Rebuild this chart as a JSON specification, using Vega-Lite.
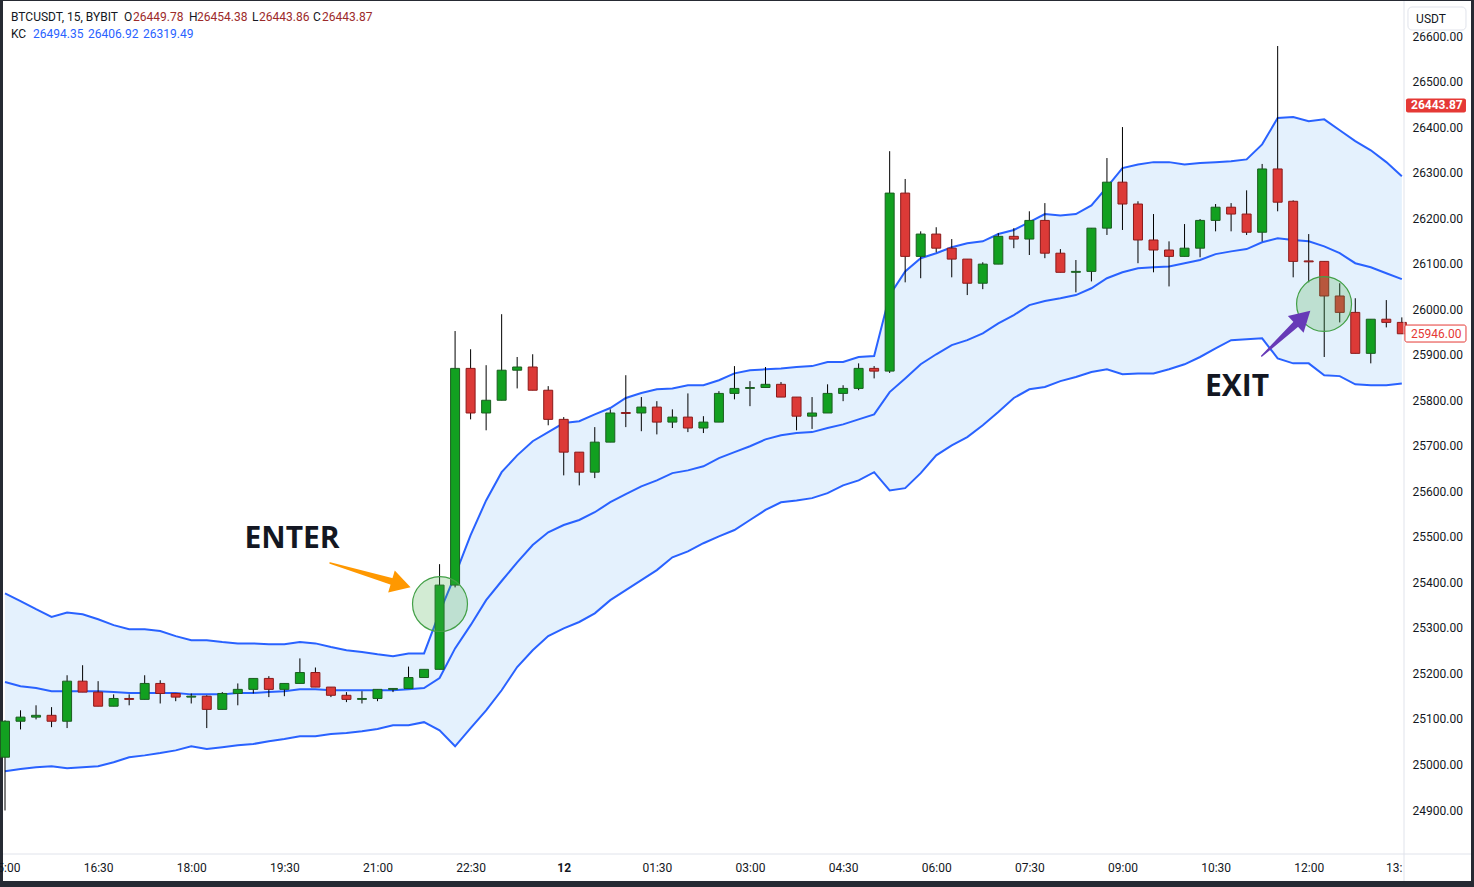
{
  "$schema": "https://vega.github.io/schema/vega-lite/v6.json",
  "description": "BTCUSDT 15m candles with Keltner Channel, enter and exit marks.",
  "width": 1468,
  "height": 880,
  "autosize": {"type": "none"},
  "padding": {"left": 3, "top": 1, "right": 3, "bottom": 6},
  "background": "#262a33",
  "config": {
    "font": "Roboto",
    "view": {"fill": "white", "stroke": null}
  },
  "datasets": {
    "bars": [
      {"t":"2023-09-11T15:00","o":25016,"h":25097,"l":24899,"c":25095,"up":25376,"mid":25181,"low":24985},
      {"t":"2023-09-11T15:15","o":25095,"h":25119,"l":25077,"c":25104,"up":25359,"mid":25172,"low":24990},
      {"t":"2023-09-11T15:30","o":25104,"h":25130,"l":25099,"c":25108,"up":25341,"mid":25168,"low":24994},
      {"t":"2023-09-11T15:45","o":25108,"h":25126,"l":25082,"c":25095,"up":25324,"mid":25161,"low":24996},
      {"t":"2023-09-11T16:00","o":25095,"h":25196,"l":25080,"c":25183,"up":25334,"mid":25161,"low":24992},
      {"t":"2023-09-11T16:15","o":25183,"h":25218,"l":25159,"c":25159,"up":25330,"mid":25161,"low":24994},
      {"t":"2023-09-11T16:30","o":25159,"h":25183,"l":25128,"c":25128,"up":25319,"mid":25161,"low":24996},
      {"t":"2023-09-11T16:45","o":25128,"h":25154,"l":25128,"c":25145,"up":25306,"mid":25159,"low":25005},
      {"t":"2023-09-11T17:00","o":25145,"h":25154,"l":25130,"c":25143,"up":25297,"mid":25157,"low":25016},
      {"t":"2023-09-11T17:15","o":25143,"h":25196,"l":25143,"c":25178,"up":25297,"mid":25157,"low":25020},
      {"t":"2023-09-11T17:30","o":25178,"h":25185,"l":25134,"c":25156,"up":25293,"mid":25157,"low":25025},
      {"t":"2023-09-11T17:45","o":25156,"h":25156,"l":25139,"c":25148,"up":25282,"mid":25157,"low":25031},
      {"t":"2023-09-11T18:00","o":25148,"h":25156,"l":25134,"c":25150,"up":25273,"mid":25154,"low":25040},
      {"t":"2023-09-11T18:15","o":25150,"h":25152,"l":25080,"c":25121,"up":25273,"mid":25154,"low":25034},
      {"t":"2023-09-11T18:30","o":25121,"h":25159,"l":25121,"c":25156,"up":25269,"mid":25154,"low":25038},
      {"t":"2023-09-11T18:45","o":25156,"h":25178,"l":25130,"c":25165,"up":25266,"mid":25157,"low":25042},
      {"t":"2023-09-11T19:00","o":25165,"h":25189,"l":25156,"c":25189,"up":25266,"mid":25157,"low":25045},
      {"t":"2023-09-11T19:15","o":25189,"h":25194,"l":25148,"c":25165,"up":25264,"mid":25159,"low":25051},
      {"t":"2023-09-11T19:30","o":25165,"h":25178,"l":25150,"c":25178,"up":25264,"mid":25161,"low":25056},
      {"t":"2023-09-11T19:45","o":25178,"h":25233,"l":25178,"c":25202,"up":25269,"mid":25165,"low":25062},
      {"t":"2023-09-11T20:00","o":25202,"h":25213,"l":25170,"c":25170,"up":25266,"mid":25165,"low":25062},
      {"t":"2023-09-11T20:15","o":25170,"h":25170,"l":25148,"c":25152,"up":25258,"mid":25163,"low":25067},
      {"t":"2023-09-11T20:30","o":25152,"h":25159,"l":25137,"c":25143,"up":25251,"mid":25163,"low":25069},
      {"t":"2023-09-11T20:45","o":25143,"h":25161,"l":25134,"c":25145,"up":25247,"mid":25163,"low":25073},
      {"t":"2023-09-11T21:00","o":25145,"h":25165,"l":25139,"c":25165,"up":25242,"mid":25163,"low":25078},
      {"t":"2023-09-11T21:15","o":25165,"h":25167,"l":25159,"c":25167,"up":25238,"mid":25163,"low":25086},
      {"t":"2023-09-11T21:30","o":25167,"h":25215,"l":25167,"c":25191,"up":25244,"mid":25165,"low":25086},
      {"t":"2023-09-11T21:45","o":25191,"h":25209,"l":25191,"c":25209,"up":25244,"mid":25168,"low":25093},
      {"t":"2023-09-11T22:00","o":25209,"h":25440,"l":25209,"c":25394,"up":25334,"mid":25190,"low":25075},
      {"t":"2023-09-11T22:15","o":25394,"h":25952,"l":25389,"c":25870,"up":25416,"mid":25255,"low":25040},
      {"t":"2023-09-11T22:30","o":25870,"h":25912,"l":25758,"c":25772,"up":25504,"mid":25306,"low":25080},
      {"t":"2023-09-11T22:45","o":25772,"h":25877,"l":25734,"c":25800,"up":25580,"mid":25361,"low":25119},
      {"t":"2023-09-11T23:00","o":25800,"h":25989,"l":25800,"c":25866,"up":25642,"mid":25403,"low":25163},
      {"t":"2023-09-11T23:15","o":25866,"h":25895,"l":25826,"c":25873,"up":25679,"mid":25444,"low":25214},
      {"t":"2023-09-11T23:30","o":25873,"h":25901,"l":25822,"c":25822,"up":25710,"mid":25482,"low":25251},
      {"t":"2023-09-11T23:45","o":25822,"h":25831,"l":25745,"c":25758,"up":25730,"mid":25510,"low":25282},
      {"t":"2023-09-12T00:00","o":25758,"h":25763,"l":25635,"c":25686,"up":25750,"mid":25526,"low":25299},
      {"t":"2023-09-12T00:15","o":25686,"h":25686,"l":25613,"c":25642,"up":25754,"mid":25537,"low":25313},
      {"t":"2023-09-12T00:30","o":25642,"h":25741,"l":25629,"c":25708,"up":25769,"mid":25554,"low":25332},
      {"t":"2023-09-12T00:45","o":25708,"h":25780,"l":25708,"c":25772,"up":25783,"mid":25576,"low":25361},
      {"t":"2023-09-12T01:00","o":25773,"h":25855,"l":25741,"c":25771,"up":25805,"mid":25594,"low":25383},
      {"t":"2023-09-12T01:15","o":25772,"h":25807,"l":25732,"c":25785,"up":25816,"mid":25611,"low":25405},
      {"t":"2023-09-12T01:30","o":25785,"h":25798,"l":25725,"c":25752,"up":25824,"mid":25624,"low":25427},
      {"t":"2023-09-12T01:45","o":25752,"h":25780,"l":25739,"c":25763,"up":25826,"mid":25640,"low":25455},
      {"t":"2023-09-12T02:00","o":25763,"h":25815,"l":25730,"c":25739,"up":25833,"mid":25646,"low":25468},
      {"t":"2023-09-12T02:15","o":25739,"h":25765,"l":25728,"c":25752,"up":25833,"mid":25655,"low":25486},
      {"t":"2023-09-12T02:30","o":25752,"h":25820,"l":25752,"c":25815,"up":25844,"mid":25673,"low":25501},
      {"t":"2023-09-12T02:45","o":25815,"h":25875,"l":25802,"c":25826,"up":25859,"mid":25686,"low":25515},
      {"t":"2023-09-12T03:00","o":25826,"h":25842,"l":25787,"c":25828,"up":25866,"mid":25699,"low":25537},
      {"t":"2023-09-12T03:15","o":25828,"h":25873,"l":25828,"c":25835,"up":25868,"mid":25714,"low":25559},
      {"t":"2023-09-12T03:30","o":25835,"h":25840,"l":25807,"c":25807,"up":25870,"mid":25723,"low":25576},
      {"t":"2023-09-12T03:45","o":25807,"h":25807,"l":25734,"c":25765,"up":25873,"mid":25728,"low":25580},
      {"t":"2023-09-12T04:00","o":25765,"h":25807,"l":25737,"c":25772,"up":25875,"mid":25730,"low":25585},
      {"t":"2023-09-12T04:15","o":25772,"h":25835,"l":25772,"c":25815,"up":25884,"mid":25739,"low":25596},
      {"t":"2023-09-12T04:30","o":25815,"h":25833,"l":25798,"c":25826,"up":25884,"mid":25747,"low":25613},
      {"t":"2023-09-12T04:45","o":25826,"h":25881,"l":25822,"c":25870,"up":25895,"mid":25758,"low":25624},
      {"t":"2023-09-12T05:00","o":25870,"h":25875,"l":25848,"c":25864,"up":25897,"mid":25769,"low":25642},
      {"t":"2023-09-12T05:15","o":25864,"h":26347,"l":25860,"c":26255,"up":26031,"mid":25818,"low":25602},
      {"t":"2023-09-12T05:30","o":26255,"h":26286,"l":26059,"c":26116,"up":26083,"mid":25848,"low":25607},
      {"t":"2023-09-12T05:45","o":26116,"h":26171,"l":26068,"c":26165,"up":26112,"mid":25879,"low":25640},
      {"t":"2023-09-12T06:00","o":26165,"h":26180,"l":26125,"c":26134,"up":26123,"mid":25901,"low":25679},
      {"t":"2023-09-12T06:15","o":26134,"h":26154,"l":26070,"c":26110,"up":26136,"mid":25921,"low":25701},
      {"t":"2023-09-12T06:30","o":26110,"h":26110,"l":26031,"c":26057,"up":26145,"mid":25932,"low":25719},
      {"t":"2023-09-12T06:45","o":26057,"h":26103,"l":26044,"c":26099,"up":26149,"mid":25947,"low":25745},
      {"t":"2023-09-12T07:00","o":26099,"h":26167,"l":26099,"c":26160,"up":26165,"mid":25969,"low":25774},
      {"t":"2023-09-12T07:15","o":26160,"h":26178,"l":26134,"c":26154,"up":26174,"mid":25987,"low":25805},
      {"t":"2023-09-12T07:30","o":26154,"h":26215,"l":26119,"c":26195,"up":26191,"mid":26009,"low":25824},
      {"t":"2023-09-12T07:45","o":26195,"h":26233,"l":26112,"c":26123,"up":26209,"mid":26018,"low":25829},
      {"t":"2023-09-12T08:00","o":26123,"h":26132,"l":26081,"c":26081,"up":26206,"mid":26024,"low":25842},
      {"t":"2023-09-12T08:15","o":26081,"h":26108,"l":26037,"c":26083,"up":26209,"mid":26031,"low":25851},
      {"t":"2023-09-12T08:30","o":26083,"h":26178,"l":26061,"c":26178,"up":26228,"mid":26046,"low":25862},
      {"t":"2023-09-12T08:45","o":26178,"h":26332,"l":26163,"c":26279,"up":26268,"mid":26068,"low":25868},
      {"t":"2023-09-12T09:00","o":26279,"h":26400,"l":26174,"c":26231,"up":26310,"mid":26081,"low":25857},
      {"t":"2023-09-12T09:15","o":26231,"h":26237,"l":26101,"c":26152,"up":26318,"mid":26090,"low":25859},
      {"t":"2023-09-12T09:30","o":26152,"h":26209,"l":26081,"c":26130,"up":26323,"mid":26092,"low":25859},
      {"t":"2023-09-12T09:45","o":26130,"h":26149,"l":26050,"c":26116,"up":26323,"mid":26094,"low":25868},
      {"t":"2023-09-12T10:00","o":26116,"h":26187,"l":26116,"c":26134,"up":26318,"mid":26101,"low":25879},
      {"t":"2023-09-12T10:15","o":26134,"h":26198,"l":26114,"c":26195,"up":26321,"mid":26108,"low":25895},
      {"t":"2023-09-12T10:30","o":26195,"h":26231,"l":26171,"c":26224,"up":26323,"mid":26121,"low":25914},
      {"t":"2023-09-12T10:45","o":26224,"h":26233,"l":26171,"c":26209,"up":26325,"mid":26127,"low":25932},
      {"t":"2023-09-12T11:00","o":26209,"h":26261,"l":26163,"c":26169,"up":26329,"mid":26132,"low":25934},
      {"t":"2023-09-12T11:15","o":26169,"h":26319,"l":26149,"c":26308,"up":26362,"mid":26147,"low":25936},
      {"t":"2023-09-12T11:30","o":26308,"h":26578,"l":26215,"c":26235,"up":26420,"mid":26156,"low":25892},
      {"t":"2023-09-12T11:45","o":26237,"h":26239,"l":26070,"c":26105,"up":26422,"mid":26152,"low":25881},
      {"t":"2023-09-12T12:00","o":26106,"h":26165,"l":26059,"c":26104,"up":26413,"mid":26149,"low":25881},
      {"t":"2023-09-12T12:15","o":26105,"h":26105,"l":25895,"c":26029,"up":26417,"mid":26138,"low":25855},
      {"t":"2023-09-12T12:30","o":26029,"h":26057,"l":25971,"c":25993,"up":26393,"mid":26123,"low":25853},
      {"t":"2023-09-12T12:45","o":25993,"h":26024,"l":25903,"c":25903,"up":26369,"mid":26101,"low":25835},
      {"t":"2023-09-12T13:00","o":25903,"h":25978,"l":25881,"c":25978,"up":26349,"mid":26092,"low":25833},
      {"t":"2023-09-12T13:15","o":25978,"h":26020,"l":25960,"c":25971,"up":26323,"mid":26079,"low":25833},
      {"t":"2023-09-12T13:30","o":25971,"h":25982,"l":25946,"c":25946,"up":26292,"mid":26066,"low":25837}
    ]
  },
  "layer": [
    {
      "data": {"name": "bars"},
      "mark": {"type": "area", "color": "#e4f1fd", "opacity": 1},
      "encoding": {
        "x": {
          "field": "t", "type": "temporal", "title": null,
          "scale": {
            "domain": [
              {"year": 2023, "month": 9, "date": 11, "hours": 14, "minutes": 58, "seconds": 4},
              {"year": 2023, "month": 9, "date": 12, "hours": 13, "minutes": 32, "seconds": 6}
            ],
            "range": [0, 1401],
            "padding": 0
          },
          "axis": {
            "orient": "bottom", "offset": -27, "grid": false, "ticks": false, "domain": false,
            "labelPadding": 8, "labelFontSize": 12, "labelColor": "#131722",
            "labelOverlap": false, "labelFlush": false, "labelBound": false,
            "values": [
              {"year": 2023, "month": 9, "date": 11, "hours": 15, "minutes": 0},
              {"year": 2023, "month": 9, "date": 11, "hours": 16, "minutes": 30},
              {"year": 2023, "month": 9, "date": 11, "hours": 18, "minutes": 0},
              {"year": 2023, "month": 9, "date": 11, "hours": 19, "minutes": 30},
              {"year": 2023, "month": 9, "date": 11, "hours": 21, "minutes": 0},
              {"year": 2023, "month": 9, "date": 11, "hours": 22, "minutes": 30},
              {"year": 2023, "month": 9, "date": 12, "hours": 0, "minutes": 0},
              {"year": 2023, "month": 9, "date": 12, "hours": 1, "minutes": 30},
              {"year": 2023, "month": 9, "date": 12, "hours": 3, "minutes": 0},
              {"year": 2023, "month": 9, "date": 12, "hours": 4, "minutes": 30},
              {"year": 2023, "month": 9, "date": 12, "hours": 6, "minutes": 0},
              {"year": 2023, "month": 9, "date": 12, "hours": 7, "minutes": 30},
              {"year": 2023, "month": 9, "date": 12, "hours": 9, "minutes": 0},
              {"year": 2023, "month": 9, "date": 12, "hours": 10, "minutes": 30},
              {"year": 2023, "month": 9, "date": 12, "hours": 12, "minutes": 0},
              {"year": 2023, "month": 9, "date": 12, "hours": 13, "minutes": 30}
            ],
            "labelExpr": "hours(datum.value) == 0 && minutes(datum.value) == 0 ? timeFormat(datum.value, '%d') : (hours(datum.value) == 13 && minutes(datum.value) == 30 ? '13:' : timeFormat(datum.value, '%H:%M'))",
            "labelFontWeight": {"condition": {"test": "hours(datum.value) == 0 && minutes(datum.value) == 0", "value": "bold"}, "value": "normal"},
            "labelAlign": {"condition": {"test": "hours(datum.value) == 13 && minutes(datum.value) == 30", "value": "right"}, "value": "center"}
          }
        },
        "y": {
          "field": "up", "type": "quantitative", "title": null,
          "scale": {"domain": [24803.4, 26676.9], "range": [853, 0], "zero": false, "nice": false, "padding": 0},
          "axis": {
            "orient": "right", "offset": -67, "grid": false, "ticks": false, "domain": false,
            "values": [24900, 25000, 25100, 25200, 25300, 25400, 25500, 25600, 25700, 25800, 25900, 26000, 26100, 26200, 26300, 26400, 26500, 26600],
            "format": ".2f", "labelPadding": 8, "labelFontSize": 12, "labelColor": "#131722",
            "labelAlign": "left", "labelBaseline": "middle",
            "labelOverlap": false, "labelFlush": false, "labelBound": false
          }
        },
        "y2": {"field": "low"}
      }
    },
    {
      "data": {"name": "bars"},
      "mark": {"type": "line", "color": "#2962ff", "strokeWidth": 2},
      "encoding": {
        "x": {"field": "t", "type": "temporal", "title": null},
        "y": {"field": "up", "type": "quantitative", "title": null}
      }
    },
    {
      "data": {"name": "bars"},
      "mark": {"type": "line", "color": "#2962ff", "strokeWidth": 2},
      "encoding": {
        "x": {"field": "t", "type": "temporal", "title": null},
        "y": {"field": "mid", "type": "quantitative", "title": null}
      }
    },
    {
      "data": {"name": "bars"},
      "mark": {"type": "line", "color": "#2962ff", "strokeWidth": 2},
      "encoding": {
        "x": {"field": "t", "type": "temporal", "title": null},
        "y": {"field": "low", "type": "quantitative", "title": null}
      }
    },
    {
      "data": {"name": "bars"},
      "mark": {"type": "rule", "color": "#000000", "strokeWidth": 1},
      "encoding": {
        "x": {"field": "t", "type": "temporal", "title": null},
        "y": {"field": "l", "type": "quantitative", "title": null},
        "y2": {"field": "h"}
      }
    },
    {
      "data": {"name": "bars"},
      "mark": {"type": "bar", "size": 9, "strokeWidth": 1},
      "encoding": {
        "x": {"field": "t", "type": "temporal", "title": null},
        "y": {"field": "o", "type": "quantitative", "title": null},
        "y2": {"field": "c"},
        "color": {"condition": {"test": "datum.c >= datum.o", "value": "#12a020"}, "value": "#dc3a37"},
        "stroke": {"condition": {"test": "datum.c >= datum.o", "value": "#1b5e20"}, "value": "#8b1a1a"}
      }
    },
    {
      "data": {"values": [
        {"t": "2023-09-11T22:00:25", "p": 25352.4},
        {"t": "2023-09-12T12:14:50", "p": 26011.4}
      ]},
      "mark": {"type": "point", "shape": "circle", "filled": true, "size": 3019, "fill": "#4caf50", "fillOpacity": 0.25, "stroke": "#43a047", "strokeWidth": 1.2, "strokeOpacity": 1, "opacity": 1},
      "encoding": {
        "x": {"field": "t", "type": "temporal", "title": null},
        "y": {"field": "p", "type": "quantitative", "title": null}
      }
    },
    {
      "data": {"values": [
        {"t": "2023-09-11T20:14:07", "p": 25442.5, "k": 0},
        {"t": "2023-09-11T21:14:02", "p": 25401.9, "k": 1}
      ]},
      "mark": {"type": "trail", "color": "#ff9800", "opacity": 1},
      "encoding": {
        "x": {"field": "t", "type": "temporal", "title": null},
        "y": {"field": "p", "type": "quantitative", "title": null},
        "size": {"field": "k", "type": "quantitative", "scale": {"domain": [0, 1], "range": [1.5, 7]}, "legend": null},
        "order": {"field": "k"}
      }
    },
    {
      "data": {"values": [{"t": "2023-09-11T21:22:44", "p": 25395.7}]},
      "mark": {"type": "point", "shape": "triangle-up", "filled": true, "size": 529, "angle": 106.7, "color": "#ff9800", "opacity": 1},
      "encoding": {
        "x": {"field": "t", "type": "temporal", "title": null},
        "y": {"field": "p", "type": "quantitative", "title": null}
      }
    },
    {
      "data": {"values": [
        {"t": "2023-09-12T11:14:36", "p": 25897.2, "k": 0},
        {"t": "2023-09-12T11:47:48", "p": 25967.4, "k": 1}
      ]},
      "mark": {"type": "trail", "color": "#673ab7", "opacity": 1},
      "encoding": {
        "x": {"field": "t", "type": "temporal", "title": null},
        "y": {"field": "p", "type": "quantitative", "title": null},
        "size": {"field": "k", "type": "quantitative", "scale": {"domain": [0, 1], "range": [1.5, 7]}, "legend": null},
        "order": {"field": "k"}
      }
    },
    {
      "data": {"values": [{"t": "2023-09-12T11:54:30", "p": 25981.7}]},
      "mark": {"type": "point", "shape": "triangle-up", "filled": true, "size": 529, "angle": 47, "color": "#673ab7", "opacity": 1},
      "encoding": {
        "x": {"field": "t", "type": "temporal", "title": null},
        "y": {"field": "p", "type": "quantitative", "title": null}
      }
    },
    {
      "data": {"values": [
        {"t": "2023-09-11T19:37:24", "p": 25495.2, "label": "ENTER"},
        {"t": "2023-09-12T10:50:42", "p": 25829.1, "label": "EXIT"}
      ]},
      "mark": {"type": "text", "font": "Open Sans", "fontSize": 30, "fontWeight": "bold", "color": "#131722", "align": "center", "baseline": "middle"},
      "encoding": {
        "x": {"field": "t", "type": "temporal", "title": null},
        "y": {"field": "p", "type": "quantitative", "title": null},
        "text": {"field": "label"}
      }
    },
    {
      "data": {"values": [
        {"t": "2023-09-11T15:05:48", "p": 26641.7, "label": "BTCUSDT, 15, BYBIT", "kind": "label"},
        {"t": "2023-09-11T16:55:01", "p": 26641.7, "label": "O", "kind": "label"},
        {"t": "2023-09-11T17:03:43", "p": 26641.7, "label": "26449.78", "kind": "ohlc"},
        {"t": "2023-09-11T17:57:50", "p": 26641.7, "label": "H", "kind": "label"},
        {"t": "2023-09-11T18:05:34", "p": 26641.7, "label": "26454.38", "kind": "ohlc"},
        {"t": "2023-09-11T18:58:43", "p": 26641.7, "label": "L", "kind": "label"},
        {"t": "2023-09-11T19:05:29", "p": 26641.7, "label": "26443.86", "kind": "ohlc"},
        {"t": "2023-09-11T19:57:41", "p": 26641.7, "label": "C", "kind": "label"},
        {"t": "2023-09-11T20:06:23", "p": 26641.7, "label": "26443.87", "kind": "ohlc"},
        {"t": "2023-09-11T15:05:48", "p": 26604.4, "label": "KC", "kind": "label"},
        {"t": "2023-09-11T15:27:04", "p": 26604.4, "label": "26494.35", "kind": "kc"},
        {"t": "2023-09-11T16:20:13", "p": 26604.4, "label": "26406.92", "kind": "kc"},
        {"t": "2023-09-11T17:13:23", "p": 26604.4, "label": "26319.49", "kind": "kc"}
      ]},
      "mark": {"type": "text", "fontSize": 12, "align": "left", "baseline": "middle"},
      "encoding": {
        "x": {"field": "t", "type": "temporal", "title": null},
        "y": {"field": "p", "type": "quantitative", "title": null},
        "text": {"field": "label"},
        "color": {"field": "kind", "type": "nominal", "scale": {"domain": ["label", "ohlc", "kc"], "range": ["#131722", "#9c2a2a", "#2962ff"]}, "legend": null}
      }
    },
    {
      "data": {"values": [{}]},
      "mark": {"type": "rule", "color": "#e0e3eb", "strokeWidth": 1},
      "encoding": {
        "x": {"datum": {"year": 2023, "month": 9, "date": 12, "hours": 13, "minutes": 32, "seconds": 6}, "type": "temporal", "title": null}
      }
    },
    {
      "data": {"values": [{}]},
      "mark": {"type": "rule", "color": "#e0e3eb", "strokeWidth": 1},
      "encoding": {
        "y": {"datum": 24803.4, "type": "quantitative", "title": null}
      }
    },
    {
      "data": {"values": [
        {"t": "2023-09-12T13:35:56", "t2": "2023-09-12T14:32:00", "p": 26663.7, "p2": 26613.2}
      ]},
      "mark": {"type": "rect", "fill": "#ffffff", "stroke": "#e0e3eb", "strokeWidth": 1, "cornerRadius": 4},
      "encoding": {
        "x": {"field": "t", "type": "temporal", "title": null},
        "x2": {"field": "t2"},
        "y": {"field": "p", "type": "quantitative", "title": null},
        "y2": {"field": "p2"}
      }
    },
    {
      "data": {"values": [
        {"t": "2023-09-12T13:34:00", "t2": "2023-09-12T14:32:00", "p": 26463.0, "p2": 26432.0}
      ]},
      "mark": {"type": "rect", "fill": "#e53935", "cornerRadius": 2},
      "encoding": {
        "x": {"field": "t", "type": "temporal", "title": null},
        "x2": {"field": "t2"},
        "y": {"field": "p", "type": "quantitative", "title": null},
        "y2": {"field": "p2"}
      }
    },
    {
      "data": {"values": [
        {"t": "2023-09-12T13:33:00", "t2": "2023-09-12T14:32:00", "p": 25965.2, "p2": 25927.9}
      ]},
      "mark": {"type": "rect", "fill": "#ffffff", "stroke": "#e53935", "strokeWidth": 1, "cornerRadius": 2},
      "encoding": {
        "x": {"field": "t", "type": "temporal", "title": null},
        "x2": {"field": "t2"},
        "y": {"field": "p", "type": "quantitative", "title": null},
        "y2": {"field": "p2"}
      }
    },
    {
      "data": {"values": [{"t": "2023-09-12T13:58:12", "p": 26638.4, "label": "USDT"}]},
      "mark": {"type": "text", "fontSize": 12, "align": "center", "baseline": "middle", "color": "#131722"},
      "encoding": {
        "x": {"field": "t", "type": "temporal", "title": null},
        "y": {"field": "p", "type": "quantitative", "title": null},
        "text": {"field": "label"}
      }
    },
    {
      "data": {"values": [{"t": "2023-09-12T13:38:54", "p": 26447.5, "label": "26443.87"}]},
      "mark": {"type": "text", "fontSize": 12, "fontWeight": "bold", "align": "left", "baseline": "middle", "color": "#ffffff"},
      "encoding": {
        "x": {"field": "t", "type": "temporal", "title": null},
        "y": {"field": "p", "type": "quantitative", "title": null},
        "text": {"field": "label"}
      }
    },
    {
      "data": {"values": [{"t": "2023-09-12T13:38:54", "p": 25946.5, "label": "25946.00"}]},
      "mark": {"type": "text", "fontSize": 12, "align": "left", "baseline": "middle", "color": "#e53935"},
      "encoding": {
        "x": {"field": "t", "type": "temporal", "title": null},
        "y": {"field": "p", "type": "quantitative", "title": null},
        "text": {"field": "label"}
      }
    }
  ]
}
